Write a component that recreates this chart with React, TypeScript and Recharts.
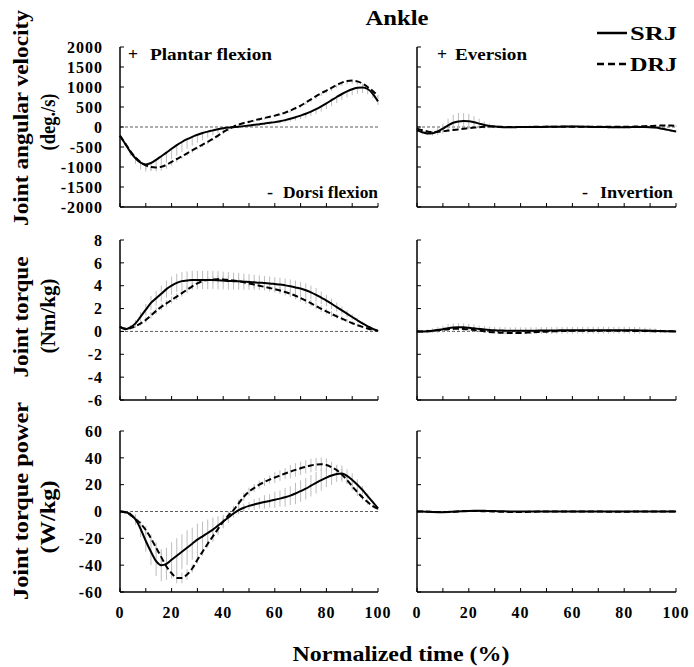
import React from 'react';
import { LineChart, Line, XAxis, YAxis, ReferenceLine, ErrorBar } from 'recharts';

const SERIF = '"Liberation Serif", "Times New Roman", serif';

// Normalized time (%)
const time = [0,2,4,6,8,10,12,14,16,18,20,22,24,26,28,30,32,34,36,38,40,42,44,46,48,50,52,54,56,58,60,62,64,66,68,70,72,74,76,78,80,82,84,86,88,90,92,94,96,98,100];

// Ankle plantar/dorsi flexion angular velocity (deg./s)
const velSrj = [-220,-420,-620,-780,-890,-935,-900,-820,-730,-640,
  -545,-455,-375,-305,-245,-195,-150,-115,-85,-55,
  -33,-15,-3,8,22,38,55,70,88,105,
  122,145,172,205,242,285,330,385,445,515,
  590,670,750,825,890,945,980,990,950,830,
  640];
const velDrj = [-220,-410,-600,-760,-880,-960,-1000,-1012,-995,-945,
  -870,-800,-735,-660,-585,-510,-440,-370,-295,-215,
  -130,-55,10,60,100,130,165,195,225,255,
  285,320,360,410,470,535,610,690,770,845,
  910,980,1050,1110,1150,1160,1140,1085,1000,900,
  780];
const velSrjSd = [20,60,100,140,170,180,190,210,230,250,
  260,260,250,240,220,200,180,150,120,100,
  80,60,50,40,40,40,40,40,40,45,
  50,55,60,70,80,90,100,110,120,130,
  140,150,150,150,150,150,150,140,130,110,
  90];
const velDrjSd = [20,40,60,80,90,100,100,100,100,100,
  90,80,70,60,60,60,60,60,60,60,
  50,50,40,40,40,40,40,40,40,40,
  40,40,40,50,50,60,60,60,70,70,
  70,80,80,80,80,80,80,80,80,80,
  80];

// Ankle joint torque (Nm/kg)
const torSrj = [0.4,0.2,0.35,0.7,1.3,1.9,2.5,2.9,3.3,3.7,
  4.0,4.25,4.4,4.45,4.5,4.5,4.5,4.5,4.5,4.48,
  4.45,4.42,4.4,4.38,4.35,4.33,4.3,4.27,4.23,4.2,
  4.15,4.1,4.03,3.95,3.85,3.75,3.6,3.42,3.2,2.95,
  2.7,2.42,2.13,1.84,1.55,1.26,0.98,0.7,0.45,0.22,
  0.05];
const torDrj = [0.4,0.25,0.3,0.45,0.7,1.0,1.4,1.8,2.15,2.45,
  2.75,3.05,3.35,3.65,3.95,4.2,4.4,4.5,4.55,4.57,
  4.55,4.5,4.45,4.38,4.3,4.2,4.1,4.0,3.9,3.8,
  3.7,3.58,3.45,3.3,3.12,2.92,2.7,2.47,2.22,1.98,
  1.75,1.53,1.32,1.12,0.92,0.73,0.55,0.4,0.26,0.14,
  0.05];
const torSrjSd = [0.1,0.1,0.2,0.3,0.4,0.5,0.6,0.65,0.7,0.75,
  0.8,0.8,0.8,0.8,0.8,0.8,0.8,0.8,0.8,0.8,
  0.78,0.76,0.74,0.72,0.7,0.68,0.66,0.64,0.62,0.6,
  0.6,0.6,0.6,0.6,0.6,0.6,0.6,0.6,0.6,0.55,
  0.5,0.45,0.4,0.35,0.3,0.25,0.2,0.15,0.1,0.1,
  0.05];
const torDrjSd = [0.05,0.1,0.1,0.15,0.2,0.25,0.3,0.3,0.3,0.3,
  0.3,0.3,0.3,0.3,0.3,0.3,0.3,0.3,0.3,0.3,
  0.3,0.3,0.3,0.3,0.3,0.3,0.3,0.3,0.3,0.3,
  0.3,0.3,0.3,0.3,0.3,0.3,0.3,0.3,0.3,0.3,
  0.25,0.25,0.2,0.2,0.15,0.15,0.1,0.1,0.1,0.05,
  0.05];

// Ankle joint torque power (W/kg)
const powSrj = [0,-0.5,-2,-6,-13,-22,-30,-37,-40,-39,
  -36,-33,-30,-27,-24,-21,-18.5,-16,-13.5,-10.5,
  -7.5,-4.5,-1.5,1,2.8,4.2,5.2,6.2,7.1,7.9,
  8.7,9.6,10.6,11.8,13.4,15.2,17,19.2,21.4,23.4,
  25.2,26.8,28,28.3,26.5,23.5,20,16,11.5,7,
  2.4];
const powDrj = [0,-0.5,-2.5,-5.5,-9,-13.8,-20,-27,-34,-41,
  -46,-49.5,-49.5,-47,-42.5,-36,-30,-24,-18.5,-13,
  -7.6,-3,1,6,11,14.8,17.5,20,22,23.8,
  25.3,26.8,28.3,29.7,31,32.2,33.3,34.3,35,35.2,
  34.6,33,30.8,27.5,23.5,18.8,14.5,10.5,7,4,
  2];
const powSrjSd = [0,1,2,4,6,8,10,11,12,12,
  13,13,13,13,12,12,11,10,9,7,
  5,4,3,3,3,3,4,4,5,5,
  6,6,7,7,8,8,8,8,8,8,
  7,7,6,6,5,5,4,3,2,1,
  0];
const powDrjSd = [0,1,1,2,2,3,3,4,4,4,
  4,4,4,4,3,3,3,3,3,3,
  3,3,3,3,3,3,3,3,3,3,
  4,4,4,5,5,5,5,5,5,5,
  5,4,4,4,3,3,3,2,2,1,
  1];

// Eversion/inversion angular velocity (deg./s)
const evSrj = [-85,-130,-160,-155,-110,-40,40,105,140,150,
  145,120,85,50,25,10,0,-5,-5,-5,
  0,0,0,0,0,5,5,5,10,10,
  10,10,5,5,0,0,0,-5,-5,-5,
  -5,-5,0,0,0,-5,-15,-35,-60,-85,
  -110];
const evDrj = [-40,-80,-110,-125,-120,-105,-90,-75,-60,-45,
  -30,-15,-5,5,10,10,5,0,0,0,
  0,0,5,5,5,5,5,5,5,5,
  5,5,5,5,5,5,5,5,5,5,
  5,5,10,15,20,25,30,35,40,35,
  25];
const evSrjSd = [20,30,40,60,90,130,170,200,210,200,
  180,150,120,90,60,40,30,30,30,30,
  30,30,30,30,30,30,30,30,30,30,
  30,30,30,30,30,30,30,30,30,30,
  30,30,30,30,30,30,30,30,30,30,
  30];
const evDrjSd = [20,20,20,20,20,20,20,20,20,20,
  20,20,20,20,20,20,20,20,20,20,
  20,20,20,20,20,20,20,20,20,20,
  20,20,20,20,20,20,20,20,20,20,
  20,20,20,20,20,20,20,20,20,20,
  20];

// Eversion/inversion torque (Nm/kg)
const etSrj = [0,0,0.02,0.06,0.12,0.2,0.28,0.34,0.37,0.36,
  0.32,0.27,0.22,0.17,0.13,0.1,0.08,0.07,0.06,0.06,
  0.06,0.06,0.07,0.07,0.08,0.08,0.09,0.09,0.1,0.1,
  0.1,0.1,0.11,0.11,0.11,0.11,0.11,0.11,0.11,0.11,
  0.11,0.1,0.1,0.09,0.08,0.07,0.05,0.04,0.02,0.01,
  0];
const etDrj = [0,0,0.02,0.05,0.1,0.15,0.2,0.23,0.24,0.22,
  0.18,0.12,0.06,0.01,-0.04,-0.08,-0.11,-0.13,-0.14,-0.14,
  -0.13,-0.11,-0.09,-0.06,-0.04,-0.02,0,0.02,0.03,0.04,
  0.05,0.05,0.05,0.05,0.05,0.05,0.05,0.05,0.05,0.05,
  0.05,0.05,0.04,0.04,0.03,0.03,0.02,0.02,0.01,0.01,
  0];
const etSrjSd = [0.05,0.1,0.15,0.2,0.25,0.3,0.35,0.35,0.35,0.35,
  0.35,0.35,0.3,0.3,0.3,0.3,0.3,0.3,0.3,0.3,
  0.3,0.3,0.3,0.3,0.3,0.3,0.3,0.3,0.3,0.3,
  0.3,0.3,0.3,0.3,0.3,0.3,0.3,0.3,0.3,0.3,
  0.3,0.3,0.3,0.3,0.25,0.25,0.2,0.15,0.1,0.05,
  0];
const etDrjSd = [0.1,0.1,0.1,0.1,0.1,0.1,0.1,0.1,0.1,0.1,
  0.1,0.1,0.1,0.1,0.1,0.1,0.1,0.1,0.1,0.1,
  0.1,0.1,0.1,0.1,0.1,0.1,0.1,0.1,0.1,0.1,
  0.1,0.1,0.1,0.1,0.1,0.1,0.1,0.1,0.1,0.1,
  0.1,0.1,0.1,0.1,0.1,0.1,0.1,0.1,0.1,0.1,
  0.1];

// Eversion/inversion torque power (W/kg)
const epSrj = [0,0,-0.2,-0.4,-0.5,-0.5,-0.4,-0.2,0,0.2,
  0.4,0.5,0.5,0.5,0.4,0.3,0.2,0.1,0,0,
  0,0,0,0,0,0,0,0,0,0,
  0,0,0,0,0,0,0,0,0,0,
  0,0,0,0,0,0,0,0,0,0,
  0];
const epDrj = [0,0,-0.1,-0.3,-0.4,-0.4,-0.3,-0.1,0.1,0.3,
  0.4,0.4,0.3,0.2,0.1,0,-0.1,-0.2,-0.3,-0.3,
  -0.3,-0.3,-0.2,-0.1,0,0,0,0,0,0,
  0,0,0,0,0,0,-0.1,-0.2,-0.2,-0.2,
  -0.2,-0.1,0,0,0,0,0,0,0,0,
  0];
const epSd = [0.2,0.2,0.2,0.2,0.2,0.2,0.2,0.2,0.2,0.2,
  0.2,0.2,0.2,0.2,0.2,0.2,0.2,0.2,0.2,0.2,
  0.2,0.2,0.2,0.2,0.2,0.2,0.2,0.2,0.2,0.2,
  0.2,0.2,0.2,0.2,0.2,0.2,0.2,0.2,0.2,0.2,
  0.2,0.2,0.2,0.2,0.2,0.2,0.2,0.2,0.2,0.2,
  0.2];

// Tick values
const timeTicks = [0,10,20,30,40,50,60,70,80,90,100];
const timeLabels = [0,20,40,60,80,100];
const velTicks = [-2000,-1500,-1000,-500,0,500,1000,1500,2000];
const torTicks = [-6,-4,-2,0,2,4,6,8];
const powTicks = [-60,-40,-20,0,20,40,60];

type Mode = 'down' | 'up' | 'both';

function makeRows(srj: number[], drj: number[], srjSd: number[], drjSd: number[], srjMode: Mode, drjMode: Mode) {
  const err = (v: number, m: Mode) => (m === 'down' ? [v, 0] : m === 'up' ? [0, v] : [v, v]);
  return time.map((t, i) => ({
    t,
    srj: srj[i],
    drj: drj[i],
    srjErr: err(srjSd[i], srjMode),
    drjErr: err(drjSd[i], drjMode),
  }));
}

const tickStyle = { fill: '#000', fontSize: 16, fontWeight: 700, fontFamily: SERIF, letterSpacing: 1 };

function Panel(props: any) {
  const { left, top, plotH, width, rightPad, yAxisWidth, rows, yTicks, showYLabels, showXLabels } = props;
  const domain = [yTicks[0], yTicks[yTicks.length - 1]];
  return (
    <div style={{ position: 'absolute', left, top }}>
      <LineChart width={width} height={plotH + 50} data={rows} margin={{ top: 10, right: rightPad, bottom: 0, left: 0 }}>
        <XAxis
          dataKey="t"
          type="number"
          domain={[0, 100]}
          ticks={timeTicks}
          interval={0}
          height={40}
          tickSize={-4}
          tickMargin={19}
          axisLine={{ stroke: '#000', strokeWidth: 1.5 }}
          tickLine={{ stroke: '#000', strokeWidth: 1 }}
          tick={tickStyle}
          tickFormatter={(v: number) => (showXLabels && timeLabels.includes(v) ? String(v) : '')}
        />
        <YAxis
          type="number"
          domain={domain}
          ticks={yTicks}
          interval={0}
          width={yAxisWidth}
          tickSize={-4}
          tickMargin={21}
          axisLine={{ stroke: '#000', strokeWidth: 1.5 }}
          tickLine={{ stroke: '#000', strokeWidth: 1 }}
          tick={tickStyle}
          tickFormatter={(v: number) => (showYLabels ? String(v) : '')}
        />
        <ReferenceLine y={0} stroke="#333" strokeDasharray="3 2" strokeWidth={0.8} />
        <Line dataKey="srj" type="monotone" stroke="none" dot={false} isAnimationActive={false} legendType="none">
          <ErrorBar dataKey="srjErr" width={0} stroke="#bdbdbd" strokeWidth={1} direction="y" isAnimationActive={false} />
        </Line>
        <Line dataKey="drj" type="monotone" stroke="none" dot={false} isAnimationActive={false} legendType="none">
          <ErrorBar dataKey="drjErr" width={0} stroke="#bdbdbd" strokeWidth={1} direction="y" isAnimationActive={false} />
        </Line>
        <Line dataKey="drj" type="monotone" stroke="#000" strokeWidth={2} strokeDasharray="6 3" dot={false} isAnimationActive={false} />
        <Line dataKey="srj" type="monotone" stroke="#000" strokeWidth={2} dot={false} isAnimationActive={false} />
      </LineChart>
    </div>
  );
}

const velRows = makeRows(velSrj, velDrj, velSrjSd, velDrjSd, 'down', 'down');
const torRows = makeRows(torSrj, torDrj, torSrjSd, torDrjSd, 'both', 'both');
const powRows = makeRows(powSrj, powDrj, powSrjSd, powDrjSd, 'both', 'both');
const evRows = makeRows(evSrj, evDrj, evSrjSd, evDrjSd, 'both', 'both');
const etRows = makeRows(etSrj, etDrj, etSrjSd, etDrjSd, 'both', 'both');
const epRows = makeRows(epSrj, epDrj, epSd, epSd, 'both', 'both');

const bold = { fontFamily: SERIF, fontWeight: 700, fill: '#000' } as const;

function VLabel({ x, y, len, text, size = 22 }: any) {
  return (
    <text transform={`translate(${x},${y}) rotate(-90)`} textAnchor="middle" fontSize={size} textLength={len} lengthAdjust="spacingAndGlyphs" style={bold}>
      {text}
    </text>
  );
}

function HText({ x, y, len, text, size = 16, anchor = 'start' }: any) {
  return (
    <text x={x} y={y} textAnchor={anchor} fontSize={size} textLength={len} lengthAdjust="spacingAndGlyphs" style={bold}>
      {text}
    </text>
  );
}

export default function App() {
  const L = { left: 0, width: 400, rightPad: 22, yAxisWidth: 120 };
  const R = { left: 400, width: 294, rightPad: 18, yAxisWidth: 17 };
  return (
    <div style={{ position: 'absolute', left: 0, top: 0, width: 694, height: 667, background: '#fff', overflow: 'hidden' }}>
      <Panel {...L} top={37} plotH={160} rows={velRows} yTicks={velTicks} showYLabels showXLabels={false} />
      <Panel {...R} top={37} plotH={160} rows={evRows} yTicks={velTicks} showYLabels={false} showXLabels={false} />
      <Panel {...L} top={230} plotH={160} rows={torRows} yTicks={torTicks} showYLabels showXLabels={false} />
      <Panel {...R} top={230} plotH={160} rows={etRows} yTicks={torTicks} showYLabels={false} showXLabels={false} />
      <Panel {...L} top={421} plotH={161} rows={powRows} yTicks={powTicks} showYLabels showXLabels />
      <Panel {...R} top={421} plotH={161} rows={epRows} yTicks={powTicks} showYLabels={false} showXLabels />
      <svg width={694} height={667} style={{ position: 'absolute', left: 0, top: 0, pointerEvents: 'none' }}>
        <HText x={397} y={25} len={63} text="Ankle" size={21} anchor="middle" />
        <line x1={597} x2={627} y1={33} y2={33} stroke="#000" strokeWidth={2.5} />
        <HText x={630} y={40} len={47} text="SRJ" size={18} />
        <line x1={597} x2={627} y1={64} y2={64} stroke="#000" strokeWidth={2.5} strokeDasharray="7 4" />
        <HText x={630} y={71} len={47} text="DRJ" size={18} />

        <HText x={128} y={60} len={10} text="+" size={16} />
        <HText x={150} y={60} len={122} text="Plantar flexion" size={16} />
        <HText x={267} y={198} len={6} text="-" size={16} />
        <HText x={283} y={198} len={95} text="Dorsi flexion" size={16} />
        <HText x={437} y={60} len={10} text="+" size={16} />
        <HText x={455} y={60} len={72} text="Eversion" size={16} />
        <HText x={582} y={198} len={6} text="-" size={16} />
        <HText x={600} y={198} len={73} text="Invertion" size={16} />

        <VLabel x={28} y={118} len={216} text="Joint angular velocity" />
        <VLabel x={55} y={122} len={57} text="(deg./s)" />
        <VLabel x={28} y={317} len={121} text="Joint torque" />
        <VLabel x={55} y={316} len={75} text="(Nm/kg)" />
        <VLabel x={28} y={501} len={198} text="Joint torque power" />
        <VLabel x={55} y={517} len={73} text="(W/kg)" />

        <HText x={401} y={661} len={217} text="Normalized time (%)" size={20} anchor="middle" />
      </svg>
    </div>
  );
}
